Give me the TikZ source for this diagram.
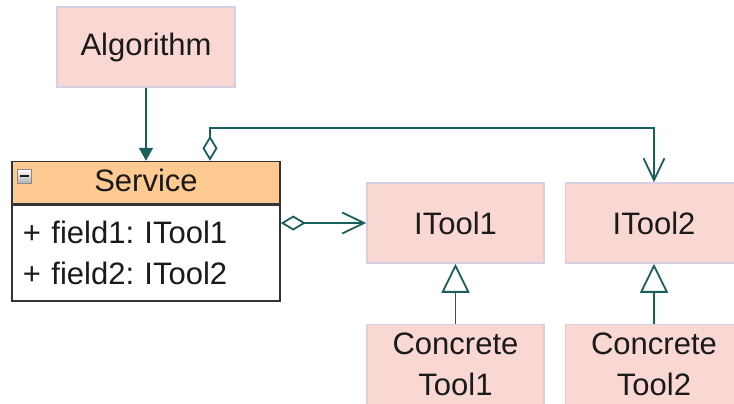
\documentclass[tikz,border=0pt]{standalone}
\usepackage{fontspec}
\setmainfont{Liberation Sans}
\usetikzlibrary{shapes,arrows.meta,positioning}
\definecolor{boxpink}{RGB}{249,216,212}
\definecolor{boxline}{RGB}{214,206,226}
\definecolor{headorange}{RGB}{255,201,146}
\definecolor{linkteal}{RGB}{26,94,94}
\definecolor{textdark}{RGB}{26,26,26}

\begin{document}
\begin{tikzpicture}[
    font=\fontsize{15.5pt}{20.5pt}\selectfont, text=textdark,
    umlbox/.style={rectangle, draw=boxline, line width=0.75pt, fill=boxpink, minimum width=88.5pt, minimum height=40pt, align=center, inner sep=0pt},
    classbox/.style={rectangle, draw=black!80, line width=0.75pt, minimum width=134pt, inner sep=0pt},
    link/.style={draw=linkteal, line width=0.9pt},
    uses/.style={link, -{Triangle[length=6.5pt,width=7pt]}},
    agg/.style={link, {Diamond[open,length=12.5pt,width=7.5pt]}-{Straight Barb[length=11pt,width=10.5pt]}},
    inherits/.style={link, -{Triangle[open,fill=white,length=14.5pt,width=14pt]}}
]
\useasboundingbox (0pt,0pt) rectangle (367pt,-201.5pt);

\node (alg) [umlbox, minimum width=89pt] at (73pt,-23.5pt) {Algorithm};
\node (svc) [classbox, fill=headorange, minimum height=21pt, below=36.5pt of alg] {\raisebox{2pt}{Service}};
\node (svcbody) [classbox, fill=white, minimum height=48pt, text width=123pt, inner xsep=5.5pt, align=left, below=0pt of svc] {+ field1:\ ITool1\\+ field2:\ ITool2};
\node (collapse) [rectangle, draw=black!45, line width=0.5pt, top color=white, bottom color=black!30, minimum size=7pt, inner sep=0pt] at ([xshift=6.75pt,yshift=3.25pt]svc.west) {\rule{4.5pt}{1pt}};

\node (itool1) [umlbox] at (227.75pt,-111.5pt) {ITool1};
\node (itool2) [umlbox, right=10pt of itool1] {ITool2};
\node (ct1) [umlbox, below=30pt of itool1] {Concrete\\Tool1};
\node (ct2) [umlbox, below=30pt of itool2] {Concrete\\Tool2};

\draw [uses] (alg) -- (svc);
\draw [agg] ([xshift=32pt]svc.north) -- ++(0pt,16.5pt) -| (itool2.north);
\draw [agg] (svcbody.east |- itool1.west) -- (itool1.west);
\draw [inherits] (ct1) -- (itool1);
\draw [inherits] (ct2) -- (itool2);
\end{tikzpicture}
\end{document}
